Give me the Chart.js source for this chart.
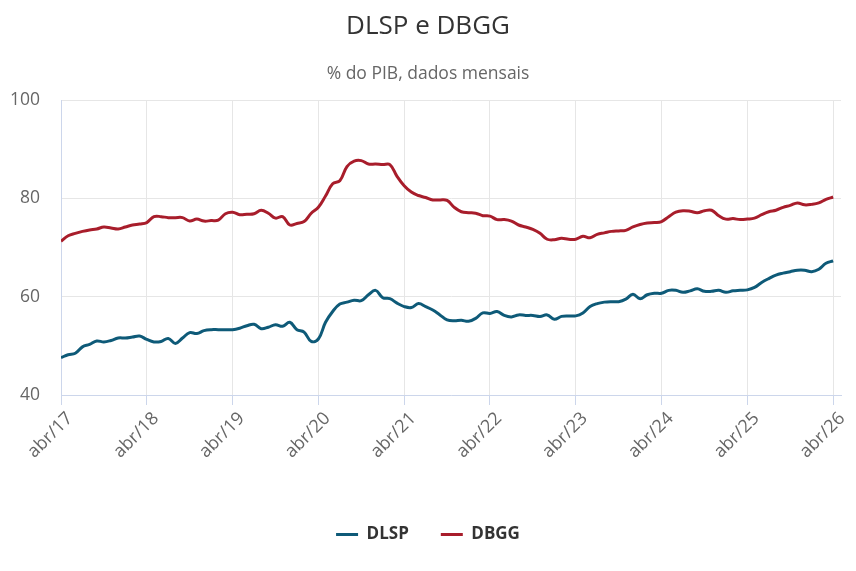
<!DOCTYPE html>
<html>
<head>
<meta charset="utf-8">
<script src="https://cdn.jsdelivr.net/npm/chart.js@4"></script>
<style>
    html, body { margin: 0; padding: 0; background: #fff; }
    #wrap { width: 856px; height: 571px; }
</style>
</head>
<body>
<div id="wrap"><canvas id="debtChart" width="856" height="571"></canvas></div>
<script>
// Month labels, abr/17 .. abr/26 (one per data point)
const monthNames = ['jan', 'fev', 'mar', 'abr', 'mai', 'jun', 'jul', 'ago', 'set', 'out', 'nov', 'dez'];
const labels = [];
for (let k = 0; k < 109; k++) {
    const m = (3 + k) % 12;
    const y = 17 + Math.floor((3 + k) / 12);
    labels.push(monthNames[m] + '/' + y);
}

// Positions (index into labels) that get a tick on the x axis
const tickIndexes = [0, 12, 24, 36, 48, 60, 72, 84, 96, 108];

// % do PIB
const dlsp = [
    47.6, 48.2, 48.5, 49.8, 50.3, 51.0, 50.8, 51.1, 51.6, 51.6, 51.8, 52.0,
    51.3, 50.8, 50.9, 51.5, 50.5, 51.6, 52.7, 52.5, 53.1, 53.3, 53.3, 53.3,
    53.3, 53.6, 54.1, 54.4, 53.5, 53.8, 54.3, 54.0, 54.8, 53.3, 52.8, 50.9,
    51.4, 54.8, 57.0, 58.5, 58.9, 59.3, 59.2, 60.4, 61.3, 59.8, 59.6, 58.7,
    58.0, 57.8, 58.6, 58.0, 57.3, 56.3, 55.3, 55.1, 55.2, 55.0, 55.6, 56.7,
    56.6, 57.0, 56.2, 55.9, 56.3, 56.2, 56.2, 56.0, 56.3, 55.4, 56.0, 56.1,
    56.1, 56.7, 58.0, 58.6, 58.9, 59.0, 59.0, 59.5, 60.5, 59.6, 60.4, 60.7,
    60.7, 61.3, 61.3, 60.9, 61.2, 61.6, 61.1, 61.1, 61.3, 60.9, 61.2, 61.3,
    61.4, 61.9, 62.9, 63.7, 64.4, 64.8, 65.1, 65.4, 65.4, 65.1, 65.6, 66.8,
    67.3
];
const dbgg = [
    71.3, 72.4, 72.9, 73.3, 73.6, 73.8, 74.2, 74.0, 73.8, 74.2, 74.6, 74.8,
    75.1, 76.3, 76.3, 76.1, 76.1, 76.1, 75.4, 75.8, 75.4, 75.5, 75.6, 76.9,
    77.2, 76.7, 76.8, 76.9, 77.6, 77.0, 76.0, 76.3, 74.6, 74.9, 75.3, 77.0,
    78.2, 80.5, 83.0, 83.6, 86.5, 87.6, 87.7, 87.0, 87.0, 86.9, 86.9, 84.5,
    82.6, 81.3, 80.6, 80.2, 79.7, 79.7, 79.6, 78.2, 77.3, 77.1, 77.0, 76.5,
    76.4, 75.7, 75.7, 75.4, 74.6, 74.2, 73.7, 72.9, 71.7, 71.6, 71.9, 71.7,
    71.7, 72.3, 72.0, 72.7, 73.0, 73.3, 73.4, 73.5, 74.2, 74.7, 75.0, 75.1,
    75.3, 76.3, 77.2, 77.5, 77.4, 77.1, 77.5, 77.6, 76.5, 75.8, 75.9, 75.7,
    75.8, 76.0, 76.7, 77.3, 77.6, 78.2, 78.6, 79.1, 78.7, 78.8, 79.1, 79.8,
    80.3
];

const font = '"Open Sans", "DejaVu Sans", sans-serif';

function toPoints(values) {
    return values.map((v, i) => ({ x: i, y: v }));
}

const ctx = document.getElementById('debtChart').getContext('2d');
const chart = new Chart(ctx, {
    type: 'line',
    data: {
        datasets: [
            {
                label: 'DLSP',
                data: toPoints(dlsp),
                borderColor: '#0e5a78',
                backgroundColor: '#0e5a78',
                borderWidth: 3,
                pointRadius: 0,
                tension: 0.4
            },
            {
                label: 'DBGG',
                data: toPoints(dbgg),
                borderColor: '#a81d2b',
                backgroundColor: '#a81d2b',
                borderWidth: 3,
                pointRadius: 0,
                tension: 0.4
            }
        ]
    },
    options: {
        responsive: false,
        animation: false,
        layout: { padding: { left: 0, right: 0, top: 0, bottom: 18 } },
        plugins: {
            title: {
                display: true,
                text: 'DLSP e DBGG',
                color: '#333333',
                font: { family: font, size: 26, weight: 'normal' },
                padding: { top: 11, bottom: 0 }
            },
            subtitle: {
                display: true,
                text: '% do PIB, dados mensais',
                color: '#666666',
                font: { family: font, size: 17.5, weight: 'normal' },
                padding: { top: 21, bottom: 16 }
            },
            legend: {
                position: 'bottom',
                labels: {
                    usePointStyle: true,
                    pointStyle: 'line',
                    pointStyleWidth: 22,
                    color: '#333333',
                    font: { family: font, size: 17, weight: 'bold' },
                    padding: 32
                }
            },
            tooltip: { enabled: false }
        },
        scales: {
            x: {
                type: 'linear',
                min: 0,
                max: 109.1,
                afterBuildTicks: (scale) => {
                    scale.ticks = tickIndexes.map(v => ({ value: v }));
                },
                afterFit: (scale) => {
                    scale.height = 99;
                },
                ticks: {
                    color: '#666666',
                    font: { family: font, size: 18 },
                    maxRotation: 45,
                    minRotation: 45,
                    autoSkip: false,
                    labelOffset: 9,
                    callback: (value) => labels[value]
                },
                grid: {
                    color: '#e6e6e6',
                    tickColor: '#ccd6eb',
                    tickLength: 10
                },
                border: { color: '#ccd6eb' }
            },
            y: {
                min: 40,
                max: 100,
                afterFit: (scale) => {
                    scale.width = 61;
                },
                ticks: {
                    stepSize: 20,
                    color: '#666666',
                    font: { family: font, size: 17.5 },
                    padding: 21
                },
                grid: {
                    color: '#e6e6e6',
                    tickLength: 0
                },
                border: { color: '#ccd6eb' }
            },
            // empty right-hand axis, only keeps a margin on the right so the
            // title and legend stay centred on the whole canvas
            yRight: {
                position: 'right',
                afterFit: (scale) => {
                    scale.width = 15;
                },
                ticks: { display: false },
                grid: { display: false },
                border: { display: false }
            }
        }
    }
});
</script>
</body>
</html>
